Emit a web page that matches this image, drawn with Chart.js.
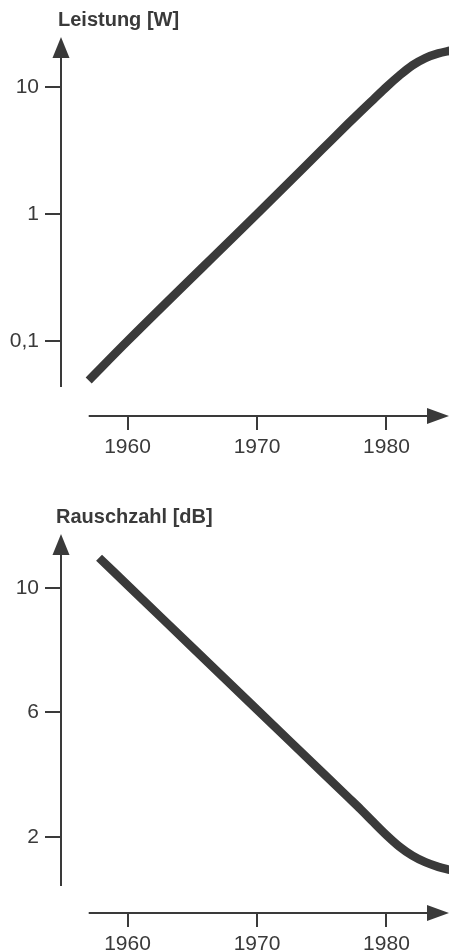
<!DOCTYPE html>
<html>
<head>
<meta charset="utf-8">
<script src="https://cdn.jsdelivr.net/npm/chart.js@4.4.1/dist/chart.umd.min.js"></script>
<style>
  html, body { margin: 0; padding: 0; background: #fff; }
  canvas { display: block; }
</style>
</head>
<body>
<canvas id="powerChart" width="449" height="475"></canvas>
<canvas id="noiseChart" width="449" height="476"></canvas>
<script>
// Leistung [W] (log scale)
const powerYears = [1957, 1960, 1970, 1975, 1977, 1978, 1979, 1980, 1981, 1982, 1983, 1984, 1985];
const powerWatts = [0.049, 0.1, 1, 3.2, 5.1, 6.4, 8.0, 10.0, 12.3, 14.8, 16.9, 18.4, 19.4];
const powerTicks = [0.1, 1, 10];

// Rauschzahl [dB]
const noiseYears = [1957.8, 1960, 1965, 1970, 1975, 1977, 1978, 1979, 1980, 1981, 1982, 1983, 1984, 1985];
const noiseDb = [10.97, 10.09, 8.09, 6.09, 4.09, 3.29, 2.89, 2.47, 2.06, 1.69, 1.40, 1.19, 1.04, 0.93];
const noiseTicks = [2, 6, 10];

const yearTicks = [1960, 1970, 1980];

const ink = '#3a3a3a';
const tickFont = { family: '"Liberation Sans", Arial, sans-serif', size: 21 };

// axis lines with arrow heads + title, drawn like the printed figure
const arrowAxes = {
  id: 'arrowAxes',
  afterDraw(chart, args, o) {
    const { ctx, chartArea: a, scales: { x } } = chart;
    ctx.save();
    ctx.strokeStyle = ink; ctx.fillStyle = ink; ctx.lineWidth = 2;
    // y axis
    const tip = a.top + o.yTip, yEnd = a.bottom - o.yGap;
    ctx.beginPath(); ctx.moveTo(a.left, tip + 12); ctx.lineTo(a.left, yEnd); ctx.stroke();
    ctx.beginPath();
    ctx.moveTo(a.left, tip); ctx.lineTo(a.left - 8.5, tip + 21); ctx.lineTo(a.left + 8.5, tip + 21);
    ctx.closePath(); ctx.fill();
    // x axis
    const xs = x.getPixelForValue(o.xFrom), xe = a.right;
    ctx.beginPath(); ctx.moveTo(xs, a.bottom); ctx.lineTo(xe - 12, a.bottom); ctx.stroke();
    ctx.beginPath();
    ctx.moveTo(xe, a.bottom); ctx.lineTo(xe - 22, a.bottom - 8); ctx.lineTo(xe - 22, a.bottom + 8);
    ctx.closePath(); ctx.fill();
    // title
    ctx.font = 'bold 20px "Liberation Sans", Arial, sans-serif';
    ctx.textBaseline = 'middle'; ctx.textAlign = 'left';
    ctx.fillText(o.title, o.titleX, o.titleY);
    ctx.restore();
  }
};

function makeChart(id, years, values, yOpts, extra) {
  return new Chart(document.getElementById(id), {
    type: 'line',
    data: {
      datasets: [{
        data: years.map((yr, i) => ({ x: yr, y: values[i] })),
        borderColor: ink,
        borderWidth: 8.5,
        borderCapStyle: 'butt',
        borderJoinStyle: 'round',
        cubicInterpolationMode: 'monotone',
        pointRadius: 0,
        fill: false
      }]
    },
    options: {
      responsive: false,
      animation: false,
      layout: { padding: { top: extra.padTop, left: 0, right: 0, bottom: 0 } },
      plugins: { legend: { display: false }, tooltip: { enabled: false }, arrowAxes: extra.arrows },
      scales: {
        x: {
          type: 'linear', min: 1954.86, max: 1984.83,
          afterBuildTicks: s => { s.ticks = yearTicks.map(v => ({ value: v })); },
          afterFit: s => { s.height = extra.xHeight; },
          border: { display: false },
          grid: { drawOnChartArea: false, drawTicks: true, tickLength: 14, color: ink, lineWidth: 2 },
          ticks: { color: ink, font: tickFont, padding: 5, maxRotation: 0, autoSkip: false, callback: v => String(v) }
        },
        y: Object.assign({
          afterFit: s => { s.width = 61; },
          border: { display: false },
          grid: { drawOnChartArea: false, drawTicks: true, tickLength: 16, color: ink, lineWidth: 2 },
          ticks: { color: ink, font: tickFont, padding: 6, autoSkip: false, callback: v => String(v).replace('.', ',') }
        }, yOpts)
      }
    },
    plugins: [arrowAxes]
  });
}

makeChart('powerChart', powerYears, powerWatts, {
  type: 'logarithmic', min: 0.0257, max: 28.1,
  afterBuildTicks: s => { s.ticks = powerTicks.map(v => ({ value: v })); }
}, {
  padTop: 30, xHeight: 59,
  arrows: { yTip: 7, yGap: 29, xFrom: 1957, title: 'Leistung [W]', titleX: 58, titleY: 20 }
});

makeChart('noiseChart', noiseYears, noiseDb, {
  type: 'linear', min: -0.442, max: 12.02,
  afterBuildTicks: s => { s.ticks = noiseTicks.map(v => ({ value: v })); }
}, {
  padTop: 50, xHeight: 38,
  arrows: { yTip: 9, yGap: 27, xFrom: 1957, title: 'Rauschzahl [dB]', titleX: 56, titleY: 42 }
});
</script>
</body>
</html>
